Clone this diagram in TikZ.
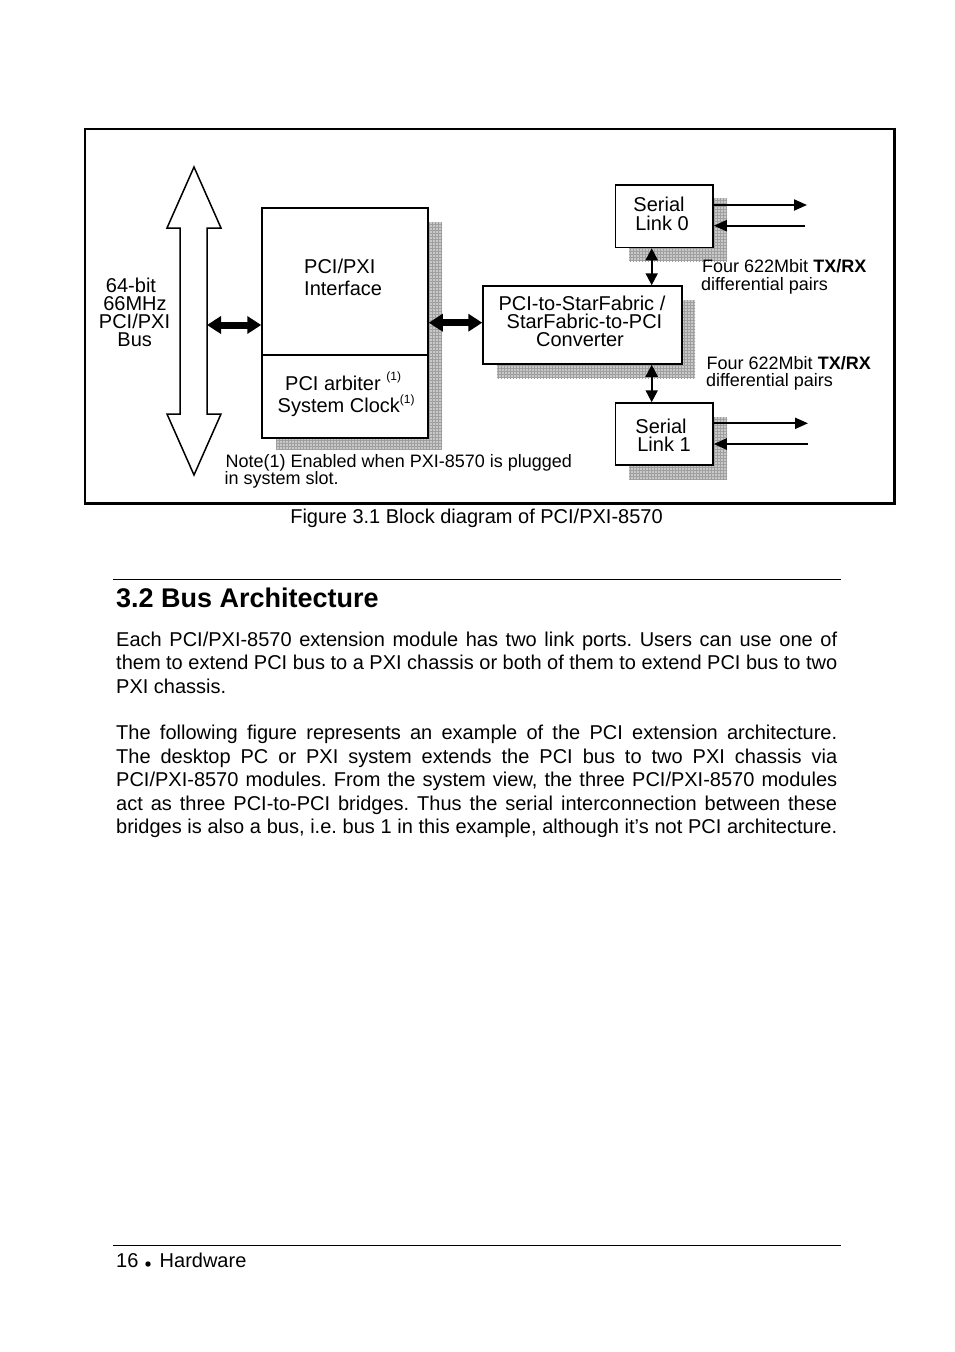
\documentclass[tikz,border=0pt]{standalone}
\usepackage{fontspec}
\setmainfont{Liberation Sans}
\usetikzlibrary{arrows.meta,patterns}
\frenchspacing
\begin{document}
\begin{tikzpicture}[x=1pt,y=-1pt,
  box/.style={draw,line width=1.5pt,fill=white,inner sep=0pt},
  shadowfill/.style={fill=gray!42},
  shadowpat/.style={pattern=grid,pattern color=gray!75},
  dtext/.style={font=\fontsize{20}{20}\selectfont,inner sep=0pt,anchor=base},
  stext/.style={font=\fontsize{18}{18}\selectfont,inner sep=0pt,anchor=base west},
  body/.style={font=\fontsize{20}{23.5}\selectfont,inner sep=0pt,anchor=base west},
  bigarr/.style={line width=7pt,{Triangle[length=14pt,width=17pt]}-{Triangle[length=14pt,width=17pt]}},
  thinarr/.style={line width=2pt,-{Triangle[length=13pt,width=11pt]}},
  thindbl/.style={line width=2pt,{Triangle[length=12pt,width=12pt]}-{Triangle[length=12pt,width=12pt]}}
]
\useasboundingbox (0,0) rectangle (954,1352);
\fill[white] (0,0) rectangle (954,1352);

% frame
\draw[line width=2pt] (84.5,128.5) rectangle (894.5,503.5);
\draw[line width=3pt] (894.5,127.5) -- (894.5,503.5) -- (83.5,503.5);

% shadows
\foreach \a/\b/\c/\d in {276/222/442/449.5, 497/300/695/378, 629/198/727/261, 629/417/727/479}{
  \fill[shadowfill] (\a,\b) rectangle (\c,\d);
  \fill[shadowpat] (\a,\b) rectangle (\c,\d);
}

% bus arrow
\draw[line width=1.5pt,fill=white,line join=miter] (194,167) -- (221,228) -- (207,228) -- (207,414) -- (221,414) -- (194,475) -- (167,414) -- (180,414) -- (180,228) -- (167,228) -- cycle;
\coordinate (busR) at (207,325);

% boxes
\node[box,minimum width=166pt,minimum height=230pt] (iface) at (345,323) {};
\draw[line width=1.5pt] (iface.west |- 0,355) -- (iface.east |- 0,355);
\node[box,minimum width=199pt,minimum height=78pt] (conv) at (582.5,325) {};
\node[box,minimum width=97.5pt,minimum height=62.5pt] (s0) at (664.25,216.25) {};
\node[box,minimum width=97.5pt,minimum height=62pt] (s1) at (664.25,434) {};

% box texts
\node[dtext,anchor=base west] (t1) at (304,273) {PCI/PXI};
\node[dtext,anchor=base west] (t2) at (304,295.5) {Interface};
\node[dtext,anchor=base west] (t3) at (285,390) {PCI arbiter \raisebox{10pt}{\fontsize{12}{12}\selectfont (1)}};
\node[dtext,anchor=base west] (t4) at (277.5,412.5) {System Clock\raisebox{9.5pt}{\fontsize{12}{12}\selectfont(1)}};

\node[dtext] (b1) at (131,292.5) {64-bit};
\node[dtext] (b2) at (135,310.5) {66MHz};
\node[dtext] (b3) at (134.5,328.3) {PCI/PXI};
\node[dtext] (b4) at (134.7,346) {Bus};

\node[dtext] (c1) at (582,310) {PCI-to-StarFabric /};
\node[dtext] (c2) at (584.5,328.3) {StarFabric-to-PCI};
\node[dtext] (c3) at (580,346.5) {Converter};

\node[dtext] (l0a) at (659,211.5) {Serial};
\node[dtext] (l0b) at (662,230) {Link 0};
\node[dtext] (l1a) at (661,433.3) {Serial};
\node[dtext] (l1b) at (664,451.7) {Link 1};

\node[stext] (f1) at (702,272.3) {Four 622Mbit \textbf{TX/RX}};
\node[stext] (f2) at (701,290) {differential pairs};
\node[stext] (f3) at (706.5,369) {Four 622Mbit \textbf{TX/RX}};
\node[stext] (f4) at (706,386.7) {differential pairs};

\node[stext] (n1) at (225.5,467) {Note(1) Enabled when PXI-8570 is plugged};
\node[stext] (n2) at (224.5,484.5) {in system slot.};

% connectors
\draw[bigarr] (busR) -- (iface.west |- busR);
\draw[bigarr] (iface.east |- 0,322.7) -- (conv.west |- 0,322.7);
\draw[thindbl] (s0.south -| 651.7,0) -- (conv.north -| 651.7,0);
\draw[thindbl] (conv.south -| 651.7,0) -- (s1.north -| 651.7,0);

\coordinate (o0) at (807,205);
\coordinate (i0) at (805,225.7);
\coordinate (o1) at (808,423.3);
\coordinate (i1) at (808,444);
\draw[thinarr] (s0.east |- o0) -- (o0);
\draw[thinarr] (i0) -- (s0.east |- i0);
\draw[thinarr] (s1.east |- o1) -- (o1);
\draw[thinarr] (i1) -- (s1.east |- i1);

% caption
\node[font=\fontsize{20}{20}\selectfont,inner sep=0pt,anchor=base] (cap) at (476.5,523) {Figure 3.1 Block diagram of PCI/PXI-8570};

% section
\draw[line width=1pt] (113,579.5) -- (841,579.5);
\node[font=\fontsize{27}{27}\selectfont\bfseries,inner sep=0pt,anchor=base west] (head) at (116,607.5) {3.2 Bus Architecture};

\node[body] (p1) at (116,646) {\makebox[721pt][s]{Each PCI/PXI-8570 extension module has two link ports. Users can use one of}};
\node[body] (p2) at (116,669.5) {\makebox[721pt][s]{them to extend PCI bus to a PXI chassis or both of them to extend PCI bus to two}};
\node[body] (p3) at (116,693) {PXI chassis.};

\node[body] (q1) at (116,739.5) {\makebox[721pt][s]{The following figure represents an example of the PCI extension architecture.}};
\node[body] (q2) at (116,763) {\makebox[721pt][s]{The desktop PC or PXI system extends the PCI bus to two PXI chassis via}};
\node[body] (q3) at (116,786.5) {\makebox[721pt][s]{PCI/PXI-8570 modules. From the system view, the three PCI/PXI-8570 modules}};
\node[body] (q4) at (116,810) {\makebox[721pt][s]{act as three PCI-to-PCI bridges. Thus the serial interconnection between these}};
\node[body] (q5) at (116,833.5) {\makebox[721pt][s]{bridges is also a bus, i.e. bus 1 in this example, although it’s not PCI architecture.}};

% footer
\draw[line width=1pt] (113,1245.5) -- (841,1245.5);
\node[body] (pg) at (116,1267) {16};
\fill (148,1264) circle (2.7);
\node[body] (hw) at (159.5,1267) {Hardware};
\end{tikzpicture}
\end{document}
